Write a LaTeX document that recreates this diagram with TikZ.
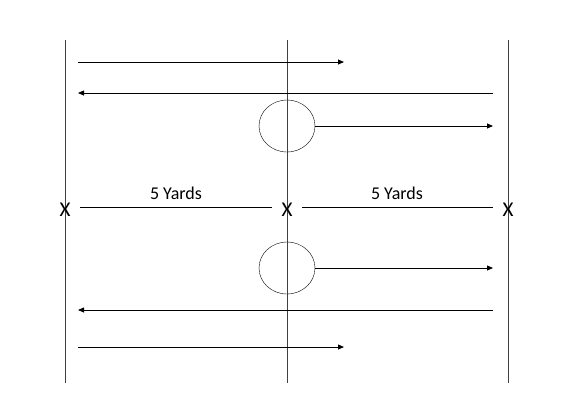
\documentclass[tikz,border=0pt]{standalone}
\usepackage{fontspec}
\setmainfont{Carlito}
\usetikzlibrary{arrows.meta,shapes.geometric}
\begin{document}
\begin{tikzpicture}[x=1pt,y=-1pt,
  field/.style={draw=black!75, line width=0.9pt},
  run/.style={draw=black, line width=0.8pt, -{Triangle[length=6pt,width=5pt]}},
  plain/.style={draw=black, line width=0.8pt},
  cone/.style={draw=black, ellipse, minimum width=56pt, minimum height=52pt, inner sep=0pt},
  xmark/.style={font=\fontsize{21}{21}\selectfont, inner sep=0pt},
  lbl/.style={font=\fontsize{18}{18}\selectfont, inner sep=0pt}]
\useasboundingbox (0,0) rectangle (565,413);
% field lines
\coordinate (L1) at (65,40); \coordinate (L2) at (65,383);
\coordinate (M1) at (287,40); \coordinate (M2) at (287,383);
\coordinate (R1) at (508,40); \coordinate (R2) at (508,383);
\draw[field] (L1) -- (L2);
\draw[field] (M1) -- (M2);
\draw[field] (R1) -- (R2);
% markers
\node[xmark] (xl) at (65,210) {X};
\node[xmark] (xm) at (287,210) {X};
\node[xmark] (xr) at (508,210) {X};
\coordinate (d1a) at (80,207); \coordinate (d1b) at (272,207);
\coordinate (d2a) at (302,207); \coordinate (d2b) at (493,207);
\draw[plain] (d1a) -- (d1b);
\draw[plain] (d2a) -- (d2b);
\node[lbl] (t1) at (176,193.5) {5 Yards};
\node[lbl] (t2) at (397,193.5) {5 Yards};
% circles
\node[cone] (c1) at (287,126) {};
\node[cone] (c2) at (287,268) {};
\coordinate (c1e) at (493,126);
\coordinate (c2e) at (493,268);
\draw[run] (c1.east) -- (c1e);
\draw[run] (c2.east) -- (c2e);
% runs
\coordinate (a1s) at (78,62); \coordinate (a1e) at (344,62);
\coordinate (a2s) at (493,93); \coordinate (a2e) at (78,93);
\coordinate (a3s) at (493,310); \coordinate (a3e) at (78,310);
\coordinate (a4s) at (78,347); \coordinate (a4e) at (344,347);
\draw[run] (a1s) -- (a1e);
\draw[run] (a2s) -- (a2e);
\draw[run] (a3s) -- (a3e);
\draw[run] (a4s) -- (a4e);
\end{tikzpicture}
\end{document}
